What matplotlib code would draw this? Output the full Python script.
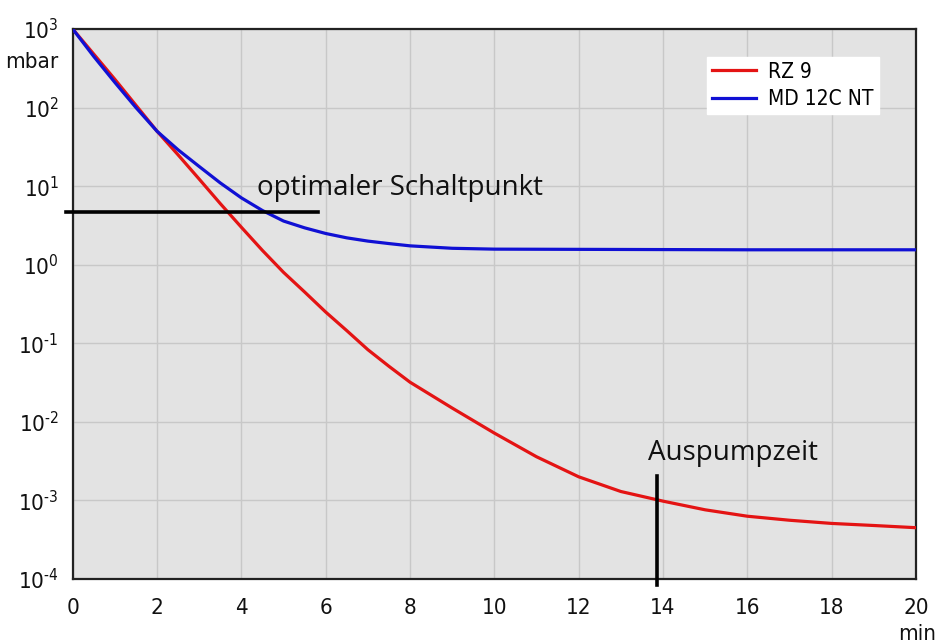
import matplotlib
matplotlib.use("Agg")
import matplotlib.pyplot as plt
from matplotlib.ticker import FixedLocator, FuncFormatter
import matplotlib.font_manager as fm
import math

# ---------------- data ----------------
rz9_time = [0, 0.5, 1, 1.5, 2, 2.5, 3, 3.5, 4, 4.5, 5, 5.5, 6, 6.5, 7, 7.5, 8, 9, 10, 11, 12, 13, 14, 15, 16, 17, 18, 19, 20]
rz9_mbar = [1000, 479, 229, 107, 50, 25, 12.3, 6.0, 3.0, 1.52, 0.80, 0.45, 0.25, 0.145, 0.083, 0.051, 0.032, 0.015, 0.0072, 0.0036, 0.0020, 0.0013, 0.00098, 0.00076, 0.00063, 0.00056, 0.00051, 0.00048, 0.00045]

md_time = [0, 0.5, 1, 1.5, 2, 2.5, 3, 3.5, 4, 4.5, 5, 5.5, 6, 6.5, 7, 7.5, 8, 9, 10, 12, 14, 16, 18, 20]
md_mbar = [1000, 447, 209, 100, 50, 29, 17.8, 11.0, 7.1, 4.9, 3.6, 2.95, 2.5, 2.2, 2.0, 1.86, 1.74, 1.62, 1.58, 1.57, 1.56, 1.55, 1.55, 1.55]

series_labels = ["RZ 9", "MD 12C NT"]
x_ticks = [0, 2, 4, 6, 8, 10, 12, 14, 16, 18, 20]
y_exponents = [3, 2, 1, 0, -1, -2, -3, -4]

switch_point_mbar = 4.7
switch_line_x = [-0.16, 5.82]
pumpdown_time = 13.86
pumpdown_line_y = [8.5e-5, 2.04e-3]

# ---------------- fonts ----------------
cond_path = fm.findfont(fm.FontProperties(family="DejaVu Sans", stretch="condensed"))
if "Condensed" in cond_path:
    tick_fp = dict(family=["DejaVu Sans"], stretch="condensed")
else:
    tick_fp = dict(family=["Liberation Sans", "DejaVu Sans"], stretch="normal")
ann_font = ["Open Sans", "DejaVu Sans"]
plt.rcParams["mathtext.default"] = "regular"

fig = plt.figure(figsize=(9.36, 6.44), dpi=100)
ax = fig.add_axes([0.0777, 0.1009, 0.9009, 0.854])
ax.set_facecolor("#e3e3e3")

ax.plot(rz9_time, rz9_mbar, color="#e41414", lw=2.3, label=series_labels[0], zorder=3)
ax.plot(md_time, md_mbar, color="#1010d4", lw=2.3, label=series_labels[1], zorder=3)

ax.set_yscale("log")
ax.set_xlim(0, 20)
ax.set_ylim(1e-4, 1e3)

ax.xaxis.set_major_locator(FixedLocator(x_ticks))
ax.yaxis.set_major_locator(FixedLocator([10.0 ** e for e in y_exponents]))
ax.yaxis.set_minor_locator(FixedLocator([]))
ax.xaxis.set_major_formatter(FuncFormatter(lambda v, p: f"{int(round(v))}"))


def yfmt(v, p):
    e = int(round(math.log10(v)))
    s = str(abs(e))
    if e < 0:
        s = "\u2010" + s
    return r"$\mathregular{10^{%s}}$" % s


ax.yaxis.set_major_formatter(FuncFormatter(yfmt))

ax.grid(True, which="major", color="#c8c8c8", lw=1.0, zorder=0)
ax.set_axisbelow(True)
ax.tick_params(axis="both", length=0)
ax.tick_params(axis="x", pad=14)
ax.tick_params(axis="y", pad=10)
for lab in ax.get_xticklabels() + ax.get_yticklabels():
    lab.set_family(tick_fp["family"])
    lab.set_stretch(tick_fp["stretch"])
    lab.set_fontsize(16)
    lab.set_color("#111111")

for s in ax.spines.values():
    s.set_color("#222222")
    s.set_linewidth(1.6)

# annotation lines
ax.plot(switch_line_x, [switch_point_mbar, switch_point_mbar], color="black", lw=2.6, clip_on=False, zorder=4)
ax.plot([pumpdown_time, pumpdown_time], pumpdown_line_y, color="black", lw=2.6, clip_on=False, zorder=4)

ax.text(4.37, 7.7, "optimaler Schaltpunkt", family=ann_font, fontsize=20, va="baseline", ha="left", color="#111111")
ax.text(13.65, 0.0033, "Auspumpzeit", family=ann_font, fontsize=20, va="baseline", ha="left", color="#111111")

# unit labels
fig.text(32 / 936, 1 - 62 / 644, "mbar", family=tick_fp["family"], stretch=tick_fp["stretch"], fontsize=16,
         ha="center", va="center", color="#111111")
fig.text(917 / 936, 1 - 634 / 644, "min", family=tick_fp["family"], stretch=tick_fp["stretch"], fontsize=16,
         ha="center", va="center", color="#111111")

leg = ax.legend(loc="upper left", bbox_to_anchor=(0.752, 0.95), borderaxespad=0,
                frameon=True, fancybox=False, framealpha=1, facecolor="white", edgecolor="white",
                prop=fm.FontProperties(family=tick_fp["family"], stretch=tick_fp["stretch"], size=15),
                handlelength=2.1, handletextpad=0.6, labelspacing=0.35, borderpad=0.25)
for line in leg.get_lines():
    line.set_linewidth(2.3)

fig.savefig("out.png", dpi=100)
